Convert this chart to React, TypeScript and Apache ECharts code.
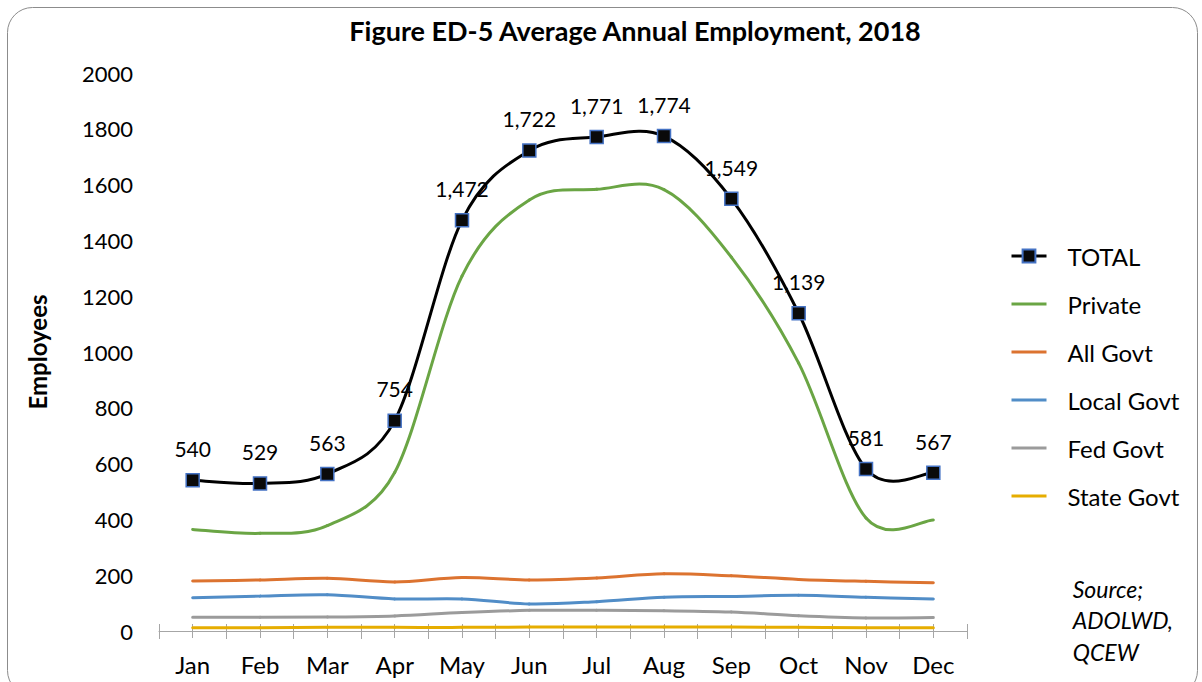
import React, { useEffect, useRef } from "react";
import * as echarts from "echarts";

const months = ["Jan", "Feb", "Mar", "Apr", "May", "Jun", "Jul", "Aug", "Sep", "Oct", "Nov", "Dec"];
const total = [540, 529, 563, 754, 1472, 1722, 1771, 1774, 1549, 1139, 581, 567];
const privateSector = [364, 350, 378, 568, 1272, 1545, 1583, 1582, 1340, 960, 405, 398];
const allGovt = [179, 183, 189, 176, 192, 183, 190, 205, 198, 185, 178, 173];
const localGovt = [119, 125, 130, 115, 115, 97, 105, 121, 124, 128, 121, 115];
const fedGovt = [49, 49, 50, 54, 66, 74, 74, 73, 68, 55, 47, 48];
const stateGovt = [12, 12, 13, 13, 13, 14, 14, 14, 14, 13, 12, 12];
const yTicks = [0, 200, 400, 600, 800, 1000, 1200, 1400, 1600, 1800, 2000];

const FONT = "Lato, 'Open Sans', sans-serif";

type Spec = { name: string; data: number[]; color: string; z: number };
const specs: Spec[] = [
  { name: "TOTAL", data: total, color: "#000000", z: 6 },
  { name: "Private", data: privateSector, color: "#6aa544", z: 5 },
  { name: "All Govt", data: allGovt, color: "#dc7330", z: 4 },
  { name: "Local Govt", data: localGovt, color: "#518dc7", z: 3 },
  { name: "Fed Govt", data: fedGovt, color: "#9b9b9b", z: 2 },
  { name: "State Govt", data: stateGovt, color: "#e6ad00", z: 1 },
];

// Excel-like smoothed line: Catmull-Rom Bezier segments (arm limited to half the segment), via the axis scales
function smoothSeries(spec: Spec) {
  const vals = spec.data;
  const n = vals.length;
  return {
    name: spec.name,
    type: "custom" as const,
    data: vals.map((v, i) => [i, v]),
    encode: { x: 0, y: 1 },
    z: spec.z,
    silent: true,
    renderItem: (params: any, api: any) => {
      const i = params.dataIndex;
      if (i >= n - 1) return null;
      const pt = (k: number) => {
        const kk = Math.max(0, Math.min(n - 1, k));
        return api.coord([kk, vals[kk]]) as number[];
      };
      const dist = (a: number[], b: number[]) => Math.hypot(a[0] - b[0], a[1] - b[1]);
      const p0 = pt(i - 1);
      const p1 = pt(i);
      const p2 = pt(i + 1);
      const p3 = pt(i + 2);
      const seg = dist(p1, p2);
      const arm = (a: number[], b: number[]) => {
        const d = dist(a, b);
        if (d === 0) return 0;
        const L = d / 6;
        return Math.min(L, seg / 2) / d;
      };
      const f1 = arm(p0, p2);
      const f2 = arm(p1, p3);
      return {
        type: "bezierCurve",
        shape: {
          x1: p1[0],
          y1: p1[1],
          cpx1: p1[0] + (p2[0] - p0[0]) * f1,
          cpy1: p1[1] + (p2[1] - p0[1]) * f1,
          cpx2: p2[0] - (p3[0] - p1[0]) * f2,
          cpy2: p2[1] - (p3[1] - p1[1]) * f2,
          x2: p2[0],
          y2: p2[1],
        },
        style: { stroke: spec.color, lineWidth: 3, fill: "none", lineCap: "round" },
      };
    },
  };
}

export default function App() {
  const ref = useRef<HTMLDivElement>(null);
  useEffect(() => {
    if (!ref.current) return;
    const chart = echarts.init(ref.current, null, { renderer: "svg" });
    const axisGray = "#a6a6a6";
    const hiddenAxis = (alignWithLabel: boolean, inside: boolean) => ({
      type: "category" as const,
      data: months,
      position: "bottom" as const,
      boundaryGap: true,
      axisLine: { show: false },
      axisLabel: { show: false },
      axisTick: { show: true, alignWithLabel, inside, length: 7, lineStyle: { color: axisGray, width: 1 } },
    });
    const legendSeries = specs.map((s) =>
      s.name === "TOTAL"
        ? {
            name: s.name,
            type: "line" as const,
            data: s.data,
            symbol: "rect",
            symbolSize: 13,
            lineStyle: { color: s.color, width: 0 },
            itemStyle: { color: "#0a0a0a", borderColor: "#4472c4", borderWidth: 1.5 },
            label: {
              show: true,
              position: "top",
              distance: 14,
              fontFamily: FONT,
              fontSize: 21,
              color: "#000",
              formatter: (p: any) => Number(p.value).toLocaleString("en-US"),
            },
            z: 10,
          }
        : {
            name: s.name,
            type: "line" as const,
            data: s.data,
            symbol: "none",
            lineStyle: { color: s.color, width: 0 },
            itemStyle: { color: s.color },
            z: 0,
          }
    );
    chart.setOption({
      animation: false,
      textStyle: { fontFamily: FONT },
      title: {
        text: "Figure ED-5 Average Annual Employment, 2018",
        left: 630,
        textAlign: "center",
        top: 12,
        textStyle: { fontFamily: FONT, fontSize: 27, fontWeight: "bold", color: "#000" },
      },
      legend: {
        orient: "vertical",
        left: 1005,
        top: 239,
        itemWidth: 35,
        itemHeight: 16,
        itemGap: 24,
        lineStyle: { width: 3 },
        textStyle: { fontFamily: FONT, fontSize: 24, color: "#000", lineHeight: 24, padding: [0, 0, 0, 16] },
        data: specs.map((s) =>
          s.name === "TOTAL"
            ? { name: s.name }
            : { name: s.name, itemStyle: { opacity: 0, borderWidth: 0 } }
        ),
      },
      grid: { left: 159, right: 235, top: 73, bottom: 51, containLabel: false },
      xAxis: [
        {
          type: "category",
          data: months,
          boundaryGap: true,
          axisLine: { show: true, lineStyle: { color: axisGray, width: 1 } },
          axisTick: { show: true, alignWithLabel: false, length: 8, lineStyle: { color: axisGray } },
          axisLabel: { fontFamily: FONT, fontSize: 24, color: "#000", margin: 21 },
        },
        hiddenAxis(false, true),
        hiddenAxis(true, true),
        hiddenAxis(true, false),
      ],
      yAxis: {
        type: "value",
        min: 0,
        max: 2000,
        interval: 200,
        axisLine: { show: false },
        axisTick: { show: false },
        splitLine: { show: false },
        axisLabel: {
          fontFamily: FONT,
          fontSize: 22,
          color: "#000",
          margin: 26,
          formatter: (v: number) => (yTicks.includes(v) ? String(v) : ""),
        },
        name: "Employees",
        nameLocation: "middle",
        nameGap: 110,
        nameTextStyle: { fontFamily: FONT, fontSize: 24, fontWeight: "bold", color: "#000" },
      },
      series: [...legendSeries, ...specs.map(smoothSeries)],
      graphic: [
        {
          type: "rect",
          shape: { x: 7.5, y: 7.5, width: 1190, height: 688, r: 25 },
          style: { fill: "none", stroke: "#8c8c8c", lineWidth: 1 },
          silent: true,
          z: -10,
        },
        {
          type: "text",
          right: 29,
          top: 573,
          style: {
            text: "Source;\nADOLWD,\nQCEW",
            fontFamily: FONT,
            fontSize: 23,
            fontStyle: "italic",
            fill: "#000",
            align: "right",
            lineHeight: 31.5,
          },
        },
      ],
    });
    return () => chart.dispose();
  }, []);
  return <div ref={ref} style={{ position: "fixed", left: 0, top: 0, width: 1202, height: 682, background: "#fff" }} />;
}
